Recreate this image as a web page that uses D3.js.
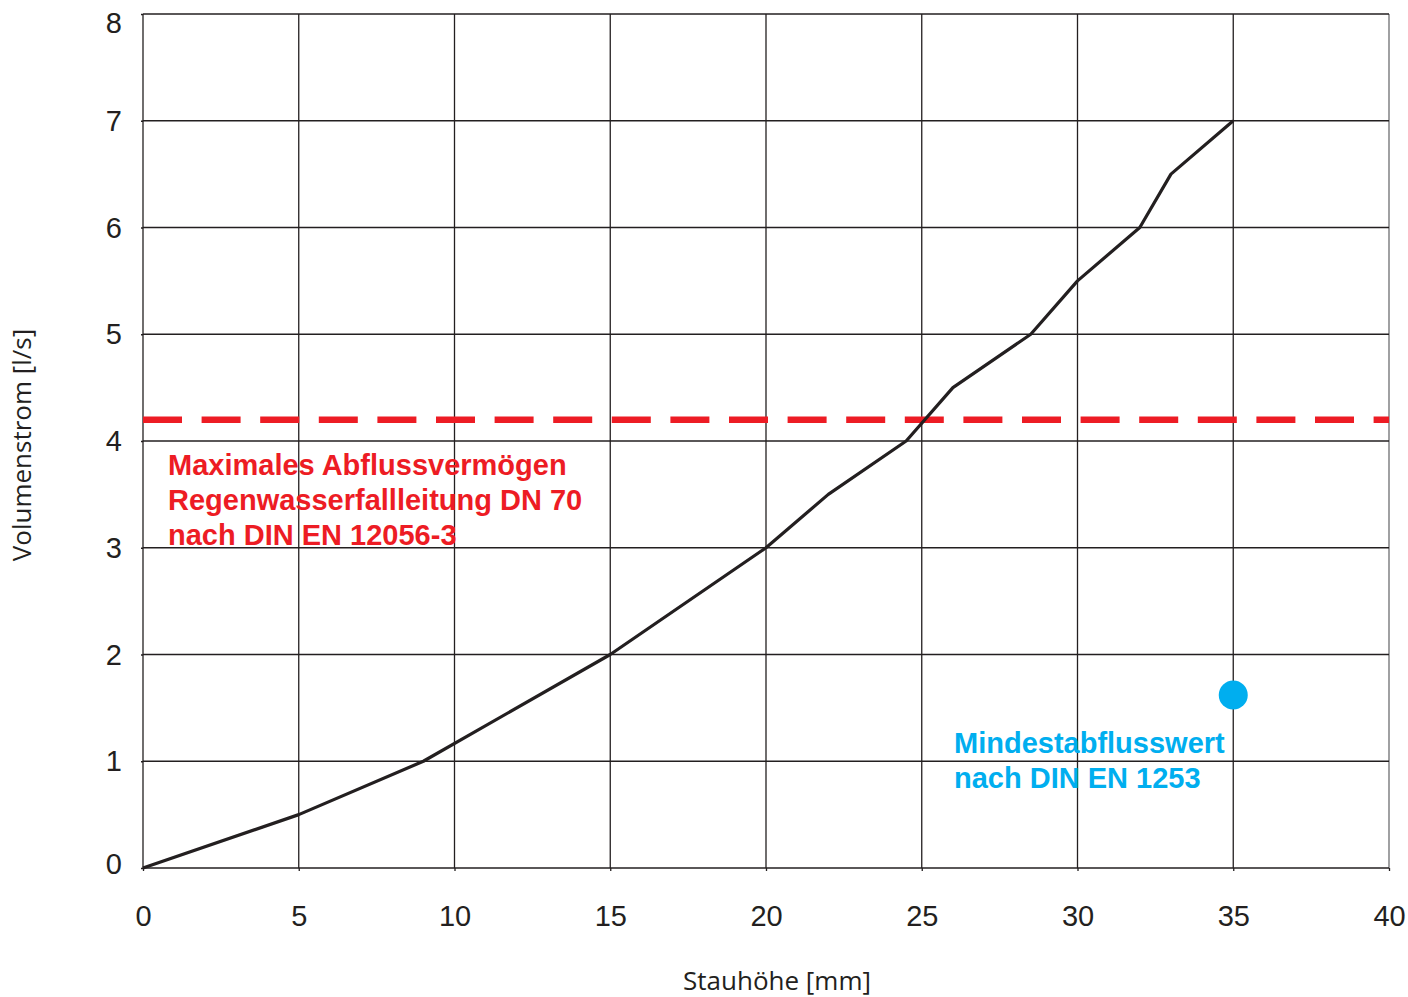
<!DOCTYPE html>
<html>
<head>
<meta charset="utf-8">
<script src="https://cdn.jsdelivr.net/npm/d3@7"></script>
<style>
  body { margin: 0; background: #fff; }
  svg { display: block; }
  .tick text { font-family: "Liberation Sans", Arial, sans-serif; fill: #231f20; }
</style>
</head>
<body>
<svg width="1408" height="997"></svg>
<script>
// Stauhöhe [mm] vs Volumenstrom [l/s]
const stauhoehe  = [0, 5, 9, 15, 20, 22, 24.5, 26, 28.5, 30, 32, 33, 35];
const volumen    = [0, 0.5, 1, 2, 3, 3.5, 4, 4.5, 5, 5.5, 6, 6.5, 7];
const xTicks = [0, 5, 10, 15, 20, 25, 30, 35, 40];
const yTicks = [0, 1, 2, 3, 4, 5, 6, 7, 8];
const maxAbfluss = 4.2;          // DN 70 nach DIN EN 12056-3
const mindestPunkt = [35, 1.62]; // nach DIN EN 1253
const redLabel  = ["Maximales Abflussvermögen", "Regenwasserfallleitung DN 70", "nach DIN EN 12056-3"];
const blueLabel = ["Mindestabflusswert", "nach DIN EN 1253"];

const ink = "#231f20", red = "#ed1c24", blue = "#00aeef";
const plotL = 143, plotR = 1389, plotT = 14, plotB = 868;

const svg = d3.select("svg");
const x = d3.scaleLinear().domain([0, 40]).range([plotL, plotR]);
const y = d3.scaleLinear().domain([0, 8]).range([plotB, plotT]);

// grid
svg.append("g").selectAll("line")
    .data(xTicks).enter().append("line")
    .attr("x1", d => x(d)).attr("x2", d => x(d))
    .attr("y1", plotT).attr("y2", plotB)
    .attr("stroke", (d, i) => i === xTicks.length - 1 ? "#6d6e71" : ink)
    .attr("stroke-width", 1.3);
svg.append("g").selectAll("line")
    .data(yTicks).enter().append("line")
    .attr("x1", plotL).attr("x2", plotR)
    .attr("y1", d => y(d)).attr("y2", d => y(d))
    .attr("stroke", ink)
    .attr("stroke-width", 1.3);

// axes (labels only)
const xAxis = svg.append("g")
    .attr("transform", `translate(0,${plotB})`)
    .call(d3.axisBottom(x).tickValues(xTicks).tickSize(3).tickPadding(34));
const yAxis = svg.append("g")
    .attr("transform", `translate(${plotL},0)`)
    .call(d3.axisLeft(y).tickValues(yTicks).tickSize(2).tickPadding(19));
[xAxis, yAxis].forEach(a => {
    a.select(".domain").remove();
    a.selectAll(".tick line").attr("stroke", ink).attr("stroke-width", 1.3);
    a.selectAll(".tick text").attr("font-size", 29).attr("fill", ink);
});
// top label sits a bit lower, bottom a bit higher, as in the original
yAxis.selectAll(".tick text")
    .attr("dy", "0.3em")
    .attr("y", d => d === 8 ? 10 : (d === 0 ? -3 : 1));

// axis titles
svg.append("text")
    .attr("x", 777).attr("y", 990)
    .attr("text-anchor", "middle")
    .attr("font-family", "'Open Sans', Lato, sans-serif")
    .attr("font-size", 26).attr("fill", ink)
    .text("Stauhöhe [mm]");
svg.append("text")
    .attr("transform", "translate(31,445) rotate(-90)")
    .attr("text-anchor", "middle")
    .attr("font-family", "'Open Sans', Lato, sans-serif")
    .attr("font-size", 26).attr("fill", ink)
    .text("Volumenstrom [l/s]");

// red dashed limit
svg.append("line")
    .attr("x1", plotL).attr("x2", plotR)
    .attr("y1", y(maxAbfluss)).attr("y2", y(maxAbfluss))
    .attr("stroke", red).attr("stroke-width", 6.5)
    .attr("stroke-dasharray", "39 19.6");

// curve
const line = d3.line().x(d => x(d[0])).y(d => y(d[1]));
svg.append("path")
    .datum(d3.zip(stauhoehe, volumen))
    .attr("d", line)
    .attr("fill", "none")
    .attr("stroke", ink)
    .attr("stroke-width", 3.2)
    .attr("stroke-linejoin", "round");

// blue point
svg.append("circle")
    .attr("cx", x(mindestPunkt[0])).attr("cy", y(mindestPunkt[1]))
    .attr("r", 14.5).attr("fill", blue);

// annotations
svg.append("g").selectAll("text")
    .data(redLabel).enter().append("text")
    .attr("x", 168).attr("y", (d, i) => 475 + i * 35)
    .attr("font-family", "'Liberation Sans', Arial, sans-serif")
    .attr("font-weight", "bold").attr("font-size", 29)
    .attr("fill", red)
    .text(d => d);
svg.append("g").selectAll("text")
    .data(blueLabel).enter().append("text")
    .attr("x", 954).attr("y", (d, i) => 753 + i * 34.5)
    .attr("font-family", "'Liberation Sans', Arial, sans-serif")
    .attr("font-weight", "bold").attr("font-size", 29)
    .attr("fill", blue)
    .text(d => d);
</script>
</body>
</html>
